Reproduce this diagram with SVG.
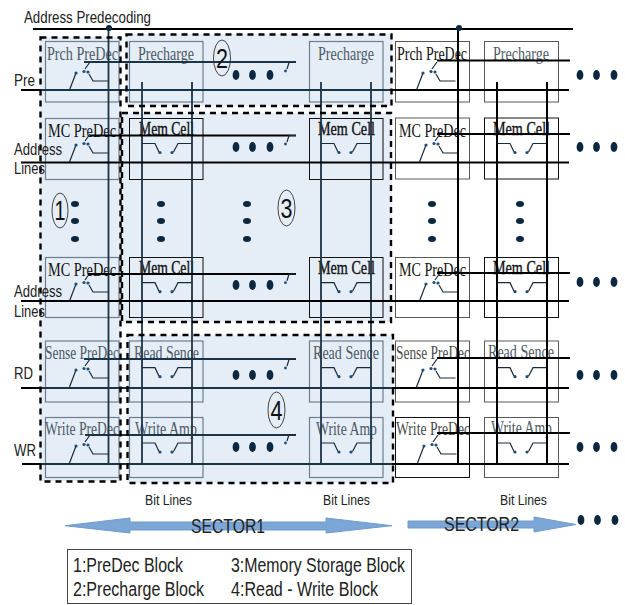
<svg xmlns="http://www.w3.org/2000/svg" xmlns:xlink="http://www.w3.org/1999/xlink" width="625" height="605" viewBox="0 0 625 605">
<style>
.shade{fill:#e5edf6;stroke:none}
.box{fill:none;stroke:#111;stroke-width:1}
.boxg{fill:none;stroke:#6f7f8e;stroke-width:1.2}
.dash{fill:none;stroke:#000;stroke-width:2.4;stroke-dasharray:6 5}
.w{fill:none;stroke:#000;stroke-width:2.2;stroke-linecap:butt}
.n{fill:none;stroke:#1c3447;stroke-width:2.2}
.v{fill:none;stroke:#1c3447;stroke-width:1.8}
.vk{fill:none;stroke:#000;stroke-width:2}
.sw{fill:none;stroke:#1a2a3a;stroke-width:1.2}
.pin{fill:#1f4e7a}
.dot{fill:#0c2740}
.t{font-family:"Liberation Serif",serif;font-size:18px;fill:#111}
.tg{font-family:"Liberation Serif",serif;font-size:18px;fill:#4d5a66}
.m{stroke:#111;stroke-width:.35}
.s{font-family:"Liberation Sans",sans-serif;font-size:17px;fill:#222}
.b{font-family:"Liberation Sans",sans-serif;font-size:15px;fill:#222}
.l{font-family:"Liberation Sans",sans-serif;font-size:19.500px;fill:#222}
.sec{font-family:"Liberation Sans",sans-serif;font-size:20px;fill:#222}
.num{font-family:"Liberation Sans",sans-serif;font-size:27px;fill:#111}
.ring{fill:none;stroke:#333;stroke-width:.9}
.arrow{fill:#7ba6d6;stroke:#6f9bcc;stroke-width:1}
</style>
<defs>
<g id="pre"><path class="sw" d="M-6.5 17L0 0M14-11L9-4M13 1L17 8H32.5"/><circle class="pin" cx="0" cy="0" r="1.6"/><circle class="pin" cx="8" cy="-1.5" r="1.6"/><circle class="pin" cx="12" cy="-1" r="1.6"/></g>
<g id="cell"><path class="sw" d="M0 0H13L17 8.5M31.5 8.5L36 0H50"/><circle class="pin" cx="18" cy="9" r="1.6"/><circle class="pin" cx="30" cy="9" r="1.6"/></g>
<g id="stub"><path class="sw" d="M287 -2L289-8.5H296"/><circle class="pin" cx="285.500" cy="0" r="1.4"/></g>
<g id="hd"><ellipse class="dot" cx="0" cy="0" rx="3.400" ry="5"/><ellipse class="dot" cx="16.500" cy="0" rx="3.400" ry="5"/><ellipse class="dot" cx="34" cy="0" rx="3.400" ry="5"/></g>
<g id="vd"><ellipse class="dot" cx="0" cy="204" rx="4" ry="3"/><ellipse class="dot" cx="0" cy="221" rx="4" ry="3"/><ellipse class="dot" cx="0" cy="239" rx="4" ry="3"/></g>
</defs>

<g id="shading">
<rect class="shade" x="40" y="37" width="81" height="444"/>
<rect class="shade" x="126" y="34" width="266" height="72"/>
<rect class="shade" x="122" y="113" width="270" height="209"/>
<rect class="shade" x="127" y="335" width="266" height="148"/>
</g>

<g id="col-a-prch"><rect class="boxg" x="45.500" y="41.500" width="73.500" height="60.500"/><text class="tg" x="47" y="60" textLength="71" lengthAdjust="spacingAndGlyphs">Prch PreDec</text><use xlink:href="#pre" x="76" y="73"/></g>
<g id="col-a-mc1"><rect class="boxg" x="45.500" y="118.500" width="73.500" height="61"/><text class="t" x="48" y="137" textLength="68" lengthAdjust="spacingAndGlyphs">MC PreDec</text><use xlink:href="#pre" x="76" y="145"/></g>
<g id="col-a-mc2"><rect class="boxg" x="45.500" y="257.500" width="73.500" height="60"/><text class="t" x="48" y="276" textLength="68" lengthAdjust="spacingAndGlyphs">MC PreDec</text><use xlink:href="#pre" x="76" y="284"/></g>
<g id="col-a-sense"><rect class="boxg" x="45.500" y="341" width="73.500" height="61"/><text class="tg" x="45" y="359" textLength="74" lengthAdjust="spacingAndGlyphs">Sense PreDec</text><use xlink:href="#pre" x="76" y="370"/></g>
<g id="col-a-write"><rect class="boxg" x="45.500" y="417.500" width="73.500" height="60"/><text class="tg" x="45" y="435" textLength="74" lengthAdjust="spacingAndGlyphs">Write PreDec</text><use xlink:href="#pre" x="76" y="446"/></g>

<g id="col-b-pre"><rect class="boxg" x="129.500" y="41.500" width="73.500" height="60.500"/><text class="tg" x="138" y="60" textLength="56" lengthAdjust="spacingAndGlyphs">Precharge</text></g>
<g id="col-b-mem1"><rect class="box" x="129.500" y="118.500" width="73.500" height="61"/><text class="t m" x="139" y="135" textLength="55" lengthAdjust="spacingAndGlyphs">Mem Cell</text><use xlink:href="#cell" x="142" y="143.500"/></g>
<g id="col-b-mem2"><rect class="box" x="129.500" y="257.500" width="73.500" height="60"/><text class="t m" x="139" y="274" textLength="55" lengthAdjust="spacingAndGlyphs">Mem Cell</text><use xlink:href="#cell" x="142" y="282.700"/></g>
<g id="col-b-read"><rect class="boxg" x="129.500" y="341" width="73.500" height="61"/><text class="tg" x="134" y="359" textLength="65" lengthAdjust="spacingAndGlyphs">Read Sence</text><use xlink:href="#cell" x="142" y="367.700"/></g>
<g id="col-b-write"><rect class="boxg" x="129.500" y="417.500" width="73.500" height="60"/><text class="tg" x="135" y="435" textLength="62" lengthAdjust="spacingAndGlyphs">Write Amp</text><use xlink:href="#cell" x="142" y="443"/></g>

<g id="col-c-pre"><rect class="boxg" x="309.500" y="41.500" width="73.500" height="60.500"/><text class="tg" x="318" y="60" textLength="56" lengthAdjust="spacingAndGlyphs">Precharge</text></g>
<g id="col-c-mem1"><rect class="box" x="309.500" y="118.500" width="73.500" height="61"/><text class="t m" x="318" y="135" textLength="57" lengthAdjust="spacingAndGlyphs">Mem Cell</text><use xlink:href="#cell" x="321" y="143.500"/></g>
<g id="col-c-mem2"><rect class="box" x="309.500" y="257.500" width="73.500" height="60"/><text class="t m" x="318" y="274" textLength="57" lengthAdjust="spacingAndGlyphs">Mem Cell</text><use xlink:href="#cell" x="321" y="282.700"/></g>
<g id="col-c-read"><rect class="boxg" x="309.500" y="341" width="73.500" height="61"/><text class="tg" x="313" y="359" textLength="66" lengthAdjust="spacingAndGlyphs">Read Sence</text><use xlink:href="#cell" x="321" y="367.700"/></g>
<g id="col-c-write"><rect class="boxg" x="309.500" y="417.500" width="73.500" height="60"/><text class="tg" x="316" y="435" textLength="61" lengthAdjust="spacingAndGlyphs">Write Amp</text><use xlink:href="#cell" x="321" y="443"/></g>

<g id="col-d-prch"><rect class="box" x="395.500" y="41.500" width="74" height="60.500" stroke-opacity=".7"/><text class="t" x="397" y="60" textLength="70" lengthAdjust="spacingAndGlyphs">Prch PreDec</text><use xlink:href="#pre" x="423" y="73"/></g>
<g id="col-d-mc1"><rect class="box" x="395.500" y="118" width="74" height="61" stroke-opacity=".7"/><text class="t" x="399" y="137" textLength="67" lengthAdjust="spacingAndGlyphs">MC PreDec</text><use xlink:href="#pre" x="426" y="145"/></g>
<g id="col-d-mc2"><rect class="box" x="395.500" y="257.500" width="74" height="60" stroke-opacity=".7"/><text class="t" x="399" y="276" textLength="67" lengthAdjust="spacingAndGlyphs">MC PreDec</text><use xlink:href="#pre" x="426" y="284"/></g>
<g id="col-d-sense"><rect class="box" x="395.500" y="341" width="74" height="61" stroke-opacity=".7"/><text class="t" x="396" y="359" textLength="74" lengthAdjust="spacingAndGlyphs" fill-opacity=".8">Sense PreDec</text><use xlink:href="#pre" x="423" y="370"/></g>
<g id="col-d-write"><rect class="box" x="395.500" y="417.500" width="74" height="60"/><text class="t" x="396" y="435" textLength="74" lengthAdjust="spacingAndGlyphs" fill-opacity=".8">Write PreDec</text><use xlink:href="#pre" x="424" y="446"/></g>

<g id="col-e-pre"><rect class="box" x="484.500" y="41.500" width="74" height="60.500" stroke-opacity=".7"/><text class="tg" x="493" y="60" textLength="56" lengthAdjust="spacingAndGlyphs">Precharge</text></g>
<g id="col-e-mem1"><rect class="box" x="484.500" y="118" width="74" height="61"/><text class="t m" x="493" y="135" textLength="57" lengthAdjust="spacingAndGlyphs">Mem Cell</text><use xlink:href="#cell" x="497" y="143.500"/></g>
<g id="col-e-mem2"><rect class="box" x="484.500" y="257.500" width="74" height="60"/><text class="t m" x="493" y="274" textLength="57" lengthAdjust="spacingAndGlyphs">Mem Cell</text><use xlink:href="#cell" x="497" y="282.700"/></g>
<g id="col-e-read"><rect class="box" x="484.500" y="341" width="74" height="61" stroke-opacity=".7"/><text class="tg" x="488" y="358" textLength="66" lengthAdjust="spacingAndGlyphs">Read Sence</text><use xlink:href="#cell" x="497" y="367.700"/></g>
<g id="col-e-write"><rect class="box" x="484.500" y="417.500" width="74" height="60" stroke-opacity=".7"/><text class="tg" x="491" y="434" textLength="61" lengthAdjust="spacingAndGlyphs">Write Amp</text><use xlink:href="#cell" x="497" y="443"/></g>

<g id="connectors">
<path class="w" d="M33 29H573"/>
<path class="v" d="M108.500 29V464M142 82V464M192 82V464M321 82V464M371 82V464"/>
<path class="vk" d="M458 29V464M497 82V464M547 82V464"/>
<path class="n" d="M84 62H296M40 90H392M84 359H296M40 388H392M85 435H296M40 464H392"/>
<path class="w" d="M21 90H40M392 90H569M21 388H40M392 388H569M22 464H40M392 464H569"/>
<path class="w" d="M90 135.500H296M21 162.500H569M88 274H296M21 301H569"/>
<path class="w" d="M437 60.500H570M437 134H570M437 273H570M437 358H570M437 433H570"/>
<circle class="dot" cx="109" cy="28" r="3"/><circle class="dot" cx="459" cy="28" r="3"/>
<use xlink:href="#stub" y="71"/><use xlink:href="#stub" y="144"/><use xlink:href="#stub" y="282.700"/><use xlink:href="#stub" y="368"/><use xlink:href="#stub" y="443"/>
</g>

<g id="blocks">
<rect class="dash" x="40.500" y="37.500" width="80" height="444"/>
<rect class="dash" x="126.500" y="34.500" width="265" height="71.500"/>
<rect class="dash" x="122" y="113" width="269" height="209"/>
<rect class="dash" x="127.500" y="335" width="265.500" height="148"/>
</g>

<g id="dots">
<use xlink:href="#hd" x="236" y="75"/><use xlink:href="#hd" x="236" y="147"/><use xlink:href="#hd" x="236" y="285"/><use xlink:href="#hd" x="236" y="375"/><use xlink:href="#hd" x="236" y="447"/>
<use xlink:href="#hd" x="580" y="75"/><use xlink:href="#hd" x="580" y="147"/><use xlink:href="#hd" x="580" y="282"/><use xlink:href="#hd" x="580" y="375"/><use xlink:href="#hd" x="580" y="447"/><use xlink:href="#hd" x="581" y="520"/>
<use xlink:href="#vd" x="75"/><use xlink:href="#vd" x="161"/><use xlink:href="#vd" x="247"/><use xlink:href="#vd" x="432"/><use xlink:href="#vd" x="520"/>
</g>

<g id="num1"><ellipse class="ring" cx="60" cy="210.500" rx="8" ry="17.500"/><text class="num" x="54.500" y="220" textLength="11" lengthAdjust="spacingAndGlyphs">1</text></g>
<g id="num2"><ellipse class="ring" cx="222" cy="58" rx="8.500" ry="18"/><text class="num" x="216" y="67.500" textLength="12" lengthAdjust="spacingAndGlyphs">2</text></g>
<g id="num3"><ellipse class="ring" cx="286.500" cy="208" rx="8.500" ry="18"/><text class="num" x="280.500" y="217.500" textLength="12" lengthAdjust="spacingAndGlyphs">3</text></g>
<g id="num4"><ellipse class="ring" cx="276.500" cy="410" rx="8.500" ry="18"/><text class="num" x="270.500" y="419.500" textLength="12" lengthAdjust="spacingAndGlyphs">4</text></g>

<g id="labels">
<text class="s" x="24" y="23" textLength="127" lengthAdjust="spacingAndGlyphs">Address Predecoding</text>
<text class="s" x="14" y="86" textLength="21" lengthAdjust="spacingAndGlyphs">Pre</text>
<text class="s" x="14" y="155" textLength="48" lengthAdjust="spacingAndGlyphs">Address</text>
<text class="s" x="14" y="174" textLength="31" lengthAdjust="spacingAndGlyphs">Lines</text>
<text class="s" x="14" y="297" textLength="48" lengthAdjust="spacingAndGlyphs">Address</text>
<text class="s" x="14" y="317" textLength="31" lengthAdjust="spacingAndGlyphs">Lines</text>
<text class="s" x="14" y="379" textLength="19" lengthAdjust="spacingAndGlyphs">RD</text>
<text class="s" x="14" y="456" textLength="22" lengthAdjust="spacingAndGlyphs">WR</text>
<text class="b" x="145" y="505" textLength="47" lengthAdjust="spacingAndGlyphs">Bit Lines</text>
<text class="b" x="323" y="505" textLength="47" lengthAdjust="spacingAndGlyphs">Bit Lines</text>
<text class="b" x="500" y="505" textLength="47" lengthAdjust="spacingAndGlyphs">Bit Lines</text>
</g>

<g id="sector1"><path class="arrow" d="M65 525.700L130 518V522H326V518L392 525.700L326 533V530H130V533Z"/><text class="sec" x="191" y="533" textLength="74" lengthAdjust="spacingAndGlyphs">SECTOR1</text></g>
<g id="sector2"><path class="arrow" d="M408 521H534V517L576 524.500L534 532V528H408Z"/><text class="sec" x="444" y="531" textLength="75" lengthAdjust="spacingAndGlyphs">SECTOR2</text></g>

<g id="legend">
<rect x="67.500" y="549.500" width="344" height="54" fill="#fff" stroke="#444" stroke-width="1"/>
<text class="l" x="73" y="572" textLength="110" lengthAdjust="spacingAndGlyphs">1:PreDec Block</text>
<text class="l" x="73" y="596" textLength="131" lengthAdjust="spacingAndGlyphs">2:Precharge Block</text>
<text class="l" x="231" y="572" textLength="174" lengthAdjust="spacingAndGlyphs">3:Memory Storage Block</text>
<text class="l" x="231" y="596" textLength="147" lengthAdjust="spacingAndGlyphs">4:Read - Write Block</text>
</g>
</svg>
